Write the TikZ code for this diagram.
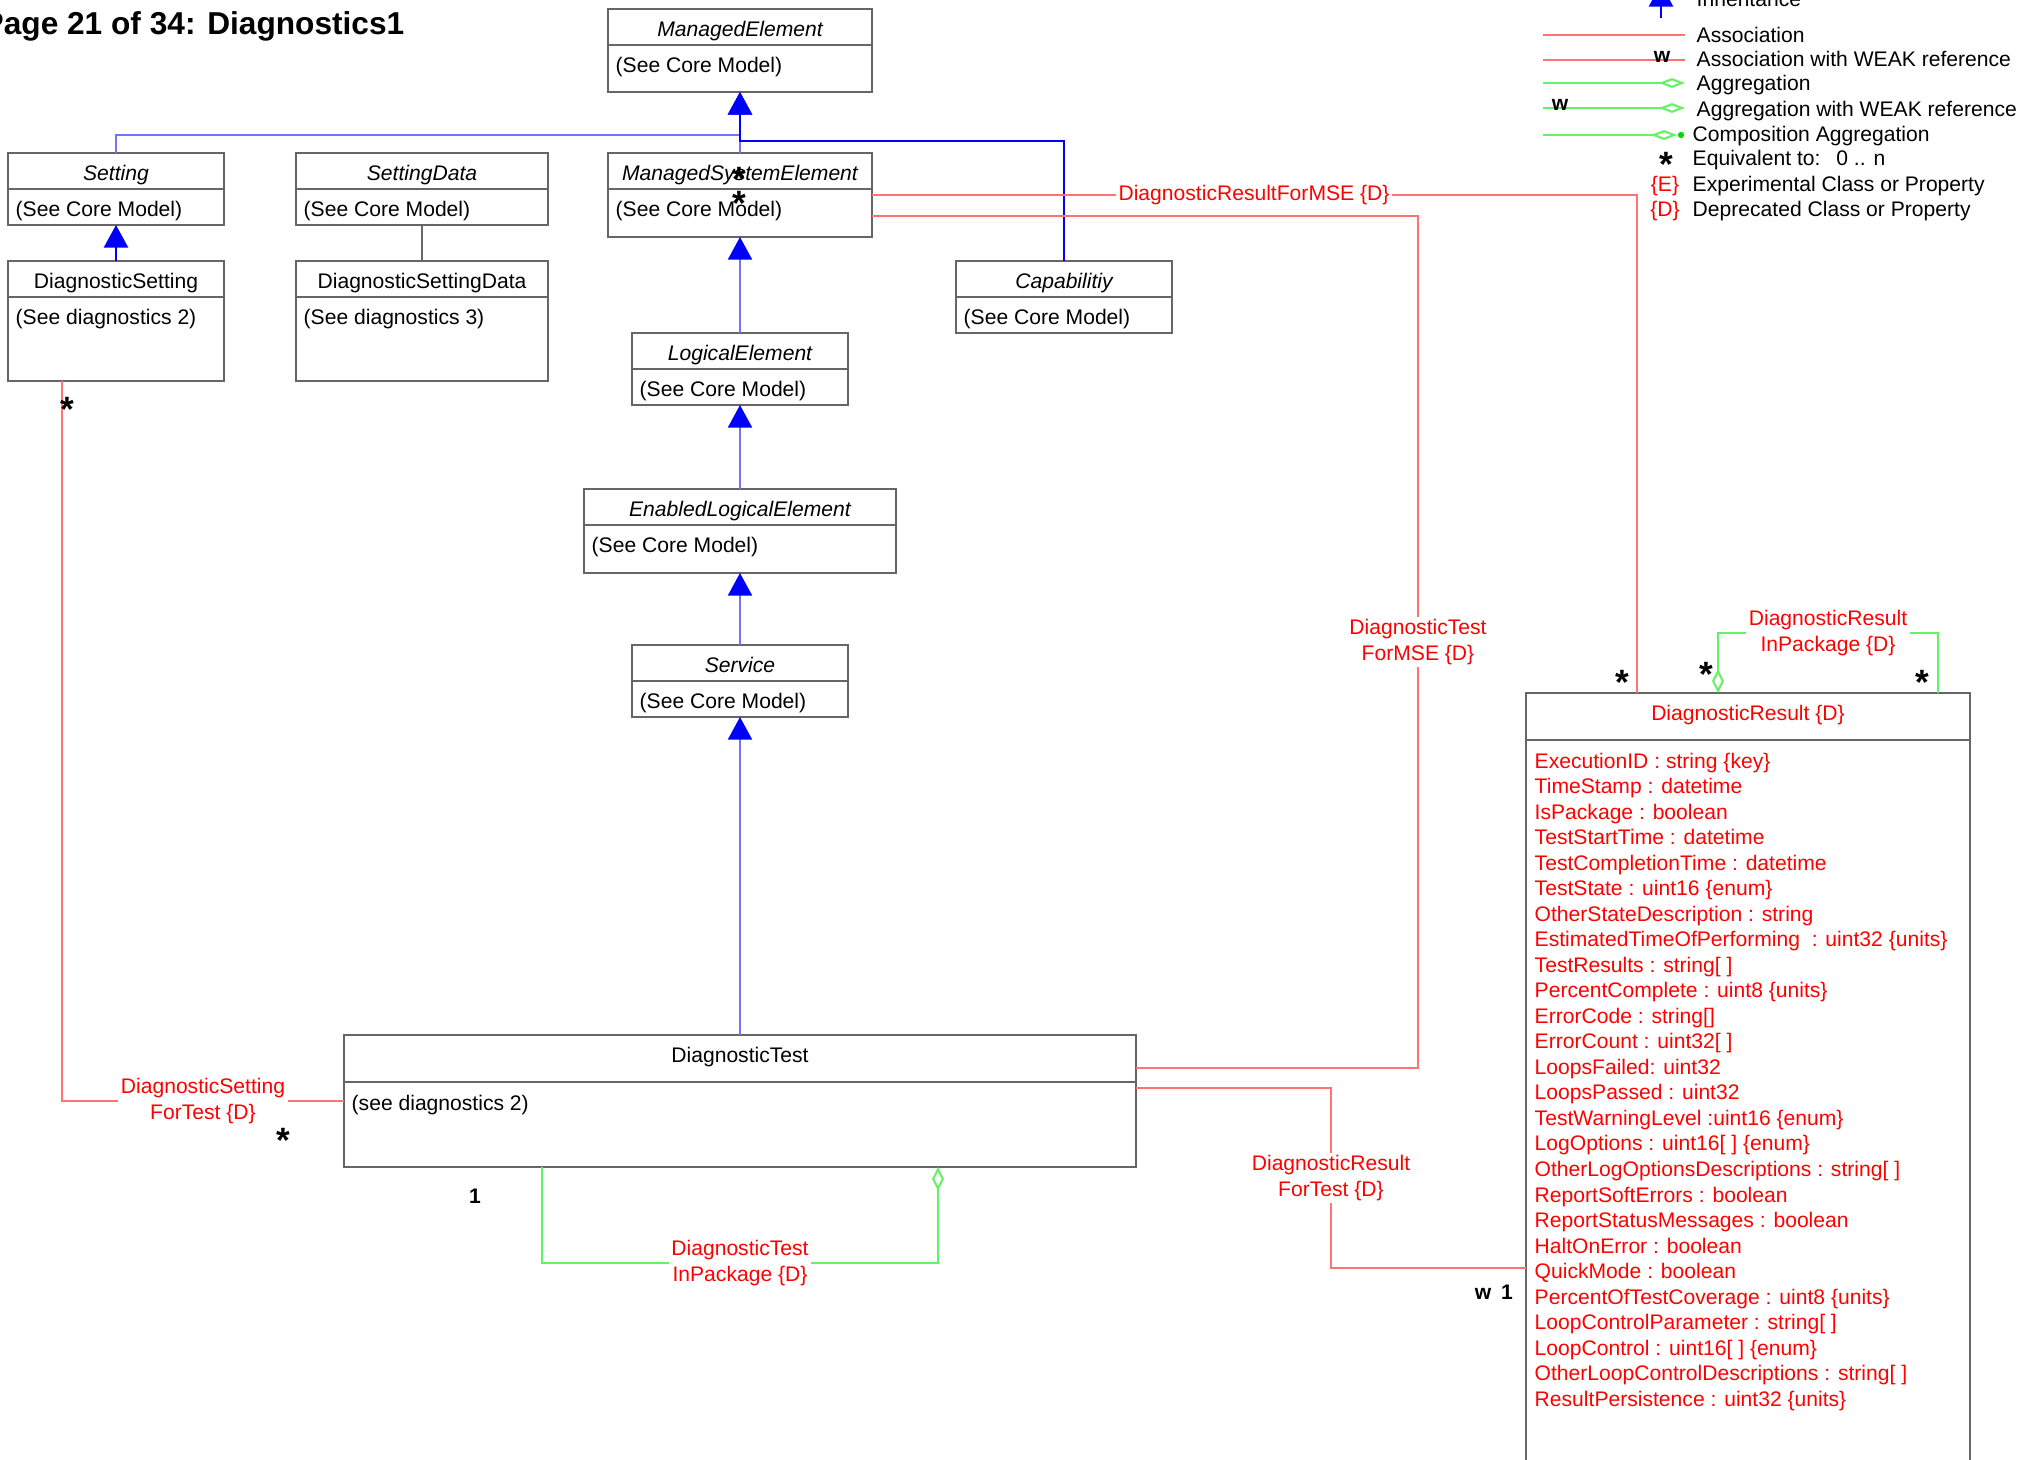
\documentclass[tikz,border=0pt]{standalone}
\usepackage{fontspec}
\setmainfont{Liberation Sans}
\usetikzlibrary{arrows.meta,positioning,fit,calc}

\definecolor{assocred}{rgb}{1,0.45,0.45}
\definecolor{aggrgreen}{rgb}{0.4,0.95,0.4}
\definecolor{inhblue}{rgb}{0.45,0.45,1}
\definecolor{boxgray}{rgb}{0.4,0.4,0.4}

\begin{document}
\begin{tikzpicture}[
    x=0.01cm, y=-0.01cm,
    txt/.style={font=\fontsize{6}{7.26}\selectfont, inner sep=0pt, text height=4.3pt, text depth=0pt},
    cls/.style={draw=boxgray, line width=0.6pt, inner sep=0pt, outer sep=0pt},
    divider/.style={draw=boxgray, line width=0.6pt},
    abstract/.style={txt, font=\fontsize{6}{7.26}\selectfont\itshape},
    concrete/.style={txt},
    body/.style={txt, anchor=west},
    attrs/.style={font=\fontsize{6}{7.26}\selectfont, text=red, align=left, anchor=north west, inner sep=0pt},
    inherit/.style={draw=inhblue, line width=0.55pt, -{Triangle[width=6.8pt, length=6.4pt, color=blue]}},
    inheritmain/.style={inherit, draw=blue, line width=0.7pt},
    assoc/.style={draw=assocred, line width=0.6pt},
    aggr/.style={draw=aggrgreen, line width=0.6pt},
    plain/.style={draw=boxgray, line width=0.6pt},
    assoclbl/.style={font=\fontsize{6}{7.26}\selectfont, text=red, align=center, fill=white, inner sep=0.8pt},
    mult/.style={font=\fontsize{10}{12}\selectfont\bfseries, inner sep=0pt, anchor=base},
    note/.style={txt, font=\fontsize{6}{7.26}\selectfont\bfseries},
    legend/.style={txt, anchor=west},
    pagetitle/.style={txt, font=\fontsize{9}{11}\selectfont\bfseries, text height=6.44pt, anchor=east},
]

\useasboundingbox (0,0) rectangle (2035,1460);
\fill[white] (0,0) rectangle (2035,1460);
\clip (0,0) rectangle (2035,1460);

% Page title
\node[pagetitle] (page) at (405,23) {Page 21 of 34: Diagnostics1};

% ManagedElement
\node[cls, fit={(608,9) (872,92)}] (me) {};
\draw[divider] (608,45) -- (872,45);
\node[abstract] (me-title) at (740,29) {ManagedElement};
\node[body] (me-body) at (615,65) {(See Core Model)};

% Setting
\node[cls, fit={(8,153) (224,225)}] (setting) {};
\draw[divider] (8,189) -- (224,189);
\node[abstract] (setting-title) at (116,173) {Setting};
\node[body] (setting-body) at (15,209) {(See Core Model)};

% SettingData
\node[cls, fit={(296,153) (548,225)}] (setdata) {};
\draw[divider] (296,189) -- (548,189);
\node[abstract] (setdata-title) at (422,173) {SettingData};
\node[body] (setdata-body) at (303,209) {(See Core Model)};

% ManagedSystemElement
\node[cls, fit={(608,153) (872,237)}] (mse) {};
\draw[divider] (608,189) -- (872,189);
\node[abstract] (mse-title) at (740,173) {ManagedSystemElement};
\node[body] (mse-body) at (615,209) {(See Core Model)};

% DiagnosticSetting
\node[cls, fit={(8,261) (224,381)}] (dset) {};
\draw[divider] (8,297) -- (224,297);
\node[concrete] (dset-title) at (116,281) {DiagnosticSetting};
\node[body] (dset-body) at (15,317) {(See diagnostics 2)};

% DiagnosticSettingData
\node[cls, fit={(296,261) (548,381)}] (dsetdata) {};
\draw[divider] (296,297) -- (548,297);
\node[concrete] (dsetdata-title) at (422,281) {DiagnosticSettingData};
\node[body] (dsetdata-body) at (303,317) {(See diagnostics 3)};

% Capabilitiy
\node[cls, fit={(956,261) (1172,333)}] (capab) {};
\draw[divider] (956,297) -- (1172,297);
\node[abstract] (capab-title) at (1064,281) {Capabilitiy};
\node[body] (capab-body) at (963,317) {(See Core Model)};

% LogicalElement
\node[cls, fit={(632,333) (848,405)}] (logel) {};
\draw[divider] (632,369) -- (848,369);
\node[abstract] (logel-title) at (740,353) {LogicalElement};
\node[body] (logel-body) at (639,389) {(See Core Model)};

% EnabledLogicalElement
\node[cls, fit={(584,489) (896,573)}] (enlogel) {};
\draw[divider] (584,525) -- (896,525);
\node[abstract] (enlogel-title) at (740,509) {EnabledLogicalElement};
\node[body] (enlogel-body) at (591,545) {(See Core Model)};

% Service
\node[cls, fit={(632,645) (848,717)}] (service) {};
\draw[divider] (632,681) -- (848,681);
\node[abstract] (service-title) at (740,665) {Service};
\node[body] (service-body) at (639,701) {(See Core Model)};

% DiagnosticTest
\node[cls, fit={(344,1035) (1136,1167)}] (dtest) {};
\draw[divider] (344,1082) -- (1136,1082);
\node[concrete] (dtest-title) at (740,1055) {DiagnosticTest};
\node[body] (dtest-body) at (351,1103) {(see diagnostics 2)};

% DiagnosticResult
\node[cls, fit={(1526,693) (1970,1490)}] (dresult) {};
\draw[divider] (1526,740) -- (1970,740);
\node[concrete, text=red] (dresult-title) at (1748,713) {DiagnosticResult \{D\}};
\node[attrs] (dresult-body) at (1534,752) {ExecutionID : string \{key\}\\
TimeStamp : datetime\\
IsPackage : boolean\\
TestStartTime : datetime\\
TestCompletionTime : datetime\\
TestState : uint16 \{enum\}\\
OtherStateDescription : string\\
EstimatedTimeOfPerforming\ \ : uint32 \{units\}\\
TestResults : string[ ]\\
PercentComplete : uint8 \{units\}\\
ErrorCode : string[]\\
ErrorCount : uint32[ ]\\
LoopsFailed: uint32\\
LoopsPassed : uint32\\
TestWarningLevel :uint16 \{enum\}\\
LogOptions : uint16[ ] \{enum\}\\
OtherLogOptionsDescriptions : string[ ]\\
ReportSoftErrors : boolean\\
ReportStatusMessages : boolean\\
HaltOnError : boolean\\
QuickMode : boolean\\
PercentOfTestCoverage : uint8 \{units\}\\
LoopControlParameter : string[ ]\\
LoopControl : uint16[ ] \{enum\}\\
OtherLoopControlDescriptions : string[ ]\\
ResultPersistence : uint32 \{units\}};

% Inheritance
\coordinate (genhub) at (740,135);
\coordinate (caphub) at (740,141);
\draw[inherit] (setting.north) |- (genhub) -- (me.south);
\draw[inherit, -] (mse.north) -- (genhub);
\draw[inheritmain] (capab.north) |- (caphub) -- (me.south);
\draw[inheritmain] (dset.north) -- (setting.south);
\draw[inherit] (logel.north) -- (mse.south);
\draw[inherit] (enlogel.north) -- (logel.south);
\draw[inherit] (service.north) -- (enlogel.south);
\draw[inherit] (dtest.north) -- (service.south);
\draw[plain] (setdata.south) -- (dsetdata.north);

% Associations
\draw[assoc] (mse.east) -| ($(dresult.north west)+(111,0)$);
\draw[assoc] ($(mse.east)+(0,21)$) -| ($(dtest.east)+(282,-33)$) -- ($(dtest.east)+(0,-33)$);
\draw[assoc] ($(dset.south west)+(54,0)$) |- (dtest.west);
\draw[assoc] ($(dtest.east)+(0,-13)$) -| ($(dresult.north west)+(-195,575)$) -- ($(dresult.north west)+(0,575)$);

% Aggregations
\draw[aggr, -{Diamond[open, width=3.4pt, length=6.8pt]}] ($(dtest.south west)+(198,0)$) -- ++(0,96) -| ($(dtest.south west)+(594,0)$);
\draw[aggr, {Diamond[open, width=3.4pt, length=6.8pt]}-] ($(dresult.north west)+(192,0)$) -- ++(0,-60) -| ($(dresult.north west)+(412,0)$);

% Association names
\node[assoclbl] (drmse-lbl) at (1254,195) {DiagnosticResultForMSE \{D\}};
\node[assoclbl] (dtmse-lbl) at (1418,642) {DiagnosticTest\\ForMSE \{D\}};
\node[assoclbl] (dsft-lbl) at (203,1101) {DiagnosticSetting\\ForTest \{D\}};
\node[assoclbl] (dtpkg-lbl) at (740,1263) {DiagnosticTest\\InPackage \{D\}};
\node[assoclbl] (drft-lbl) at (1331,1178) {DiagnosticResult\\ForTest \{D\}};
\node[assoclbl] (drpkg-lbl) at (1828,633) {DiagnosticResult\\InPackage \{D\}};

% Multiplicities
\node[mult] (m1) at (67,421) {*};
\node[mult] (m2) at (283,1152) {*};
\node[mult] (m3) at (739,191) {*};
\node[mult] (m4) at (739,215) {*};
\node[mult] (m5) at (1622,694) {*};
\node[mult] (m6) at (1706,686) {*};
\node[mult] (m7) at (1922,694) {*};
\node[note] (m8) at (475,1196) {1};
\node[note] (m9) at (1483,1292) {w};
\node[note] (m10) at (1507,1292) {1};

% Legend
\coordinate (lg-inh-a) at (1661,18);
\coordinate (lg-inh-b) at (1661,-16);
\draw[inheritmain] (lg-inh-a) -- (lg-inh-b);
\node[legend] (lg-inh) at (1696,-1) {Inheritance};

\coordinate (lg-as-a) at (1543,35);
\coordinate (lg-as-b) at (1685,35);
\draw[assoc] (lg-as-a) -- (lg-as-b);
\node[legend] (lg-as) at (1696,35) {Association};

\coordinate (lg-asw-a) at (1543,60);
\coordinate (lg-asw-b) at (1685,60);
\draw[assoc] (lg-asw-a) -- (lg-asw-b);
\node[note] (lg-asw-w) at (1662,55) {w};
\node[legend] (lg-asw) at (1696,59) {Association with WEAK reference};

\coordinate (lg-ag-a) at (1543,83);
\coordinate (lg-ag-b) at (1685,83);
\draw[aggr, -{Diamond[open, width=2.8pt, length=7.4pt]}] (lg-ag-a) -- (lg-ag-b);
\node[legend] (lg-ag) at (1696,83) {Aggregation};

\coordinate (lg-agw-a) at (1543,108);
\coordinate (lg-agw-b) at (1685,108);
\draw[aggr, -{Diamond[open, width=2.8pt, length=7.4pt]}] (lg-agw-a) -- (lg-agw-b);
\node[note] (lg-agw-w) at (1560,103) {w};
\node[legend] (lg-agw) at (1696,109) {Aggregation with WEAK reference};

\coordinate (lg-co-a) at (1543,135);
\coordinate (lg-co-b) at (1677,135);
\draw[aggr, -{Diamond[open, width=2.8pt, length=7.4pt]}] (lg-co-a) -- (lg-co-b);
\fill[green!85!black] (1681,135) circle[radius=0.9pt];
\node[legend] (lg-co) at (1692,134) {Composition Aggregation};

\node[mult] (lg-star) at (1666,176) {*};
\node[legend] (lg-eq) at (1692,158) {Equivalent to:\hspace{4.5pt}0 .. n};
\node[txt, text=red] (lg-e) at (1665,184) {\{E\}};
\node[legend] (lg-exp) at (1692,184) {Experimental Class or Property};
\node[txt, text=red] (lg-d) at (1665,209) {\{D\}};
\node[legend] (lg-dep) at (1692,209) {Deprecated Class or Property};

\end{tikzpicture}
\end{document}
